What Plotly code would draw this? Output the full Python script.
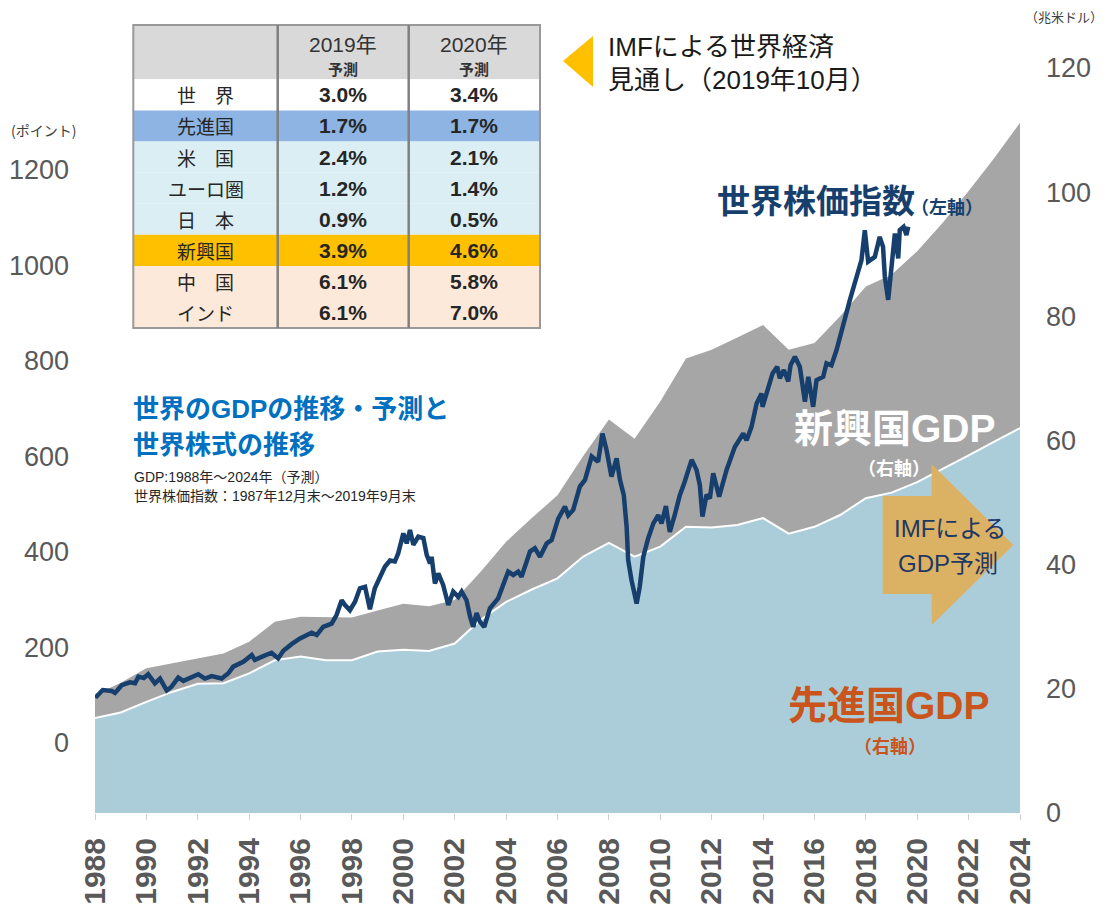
import plotly.graph_objects as go

# ---------------- data ----------------
years = list(range(1988, 2025))
adv_gdp = [15.3, 16.2, 17.9, 19.5, 20.8, 20.9, 22.5, 24.6, 25.2, 24.6, 24.6, 26.0, 26.3, 26.1, 27.3,
           31.1, 34.0, 36.0, 37.8, 41.3, 43.5, 41.3, 42.9, 46.1, 46.0, 46.4, 47.5, 45.0, 46.1, 48.0,
           50.7, 51.6, 53.3, 55.4, 57.6, 59.8, 62.0]
world_gdp = [19.0, 21.0, 23.3, 24.1, 24.9, 25.7, 27.6, 30.8, 31.6, 31.6, 31.5, 32.6, 33.7, 33.3, 34.3,
             38.8, 43.7, 47.5, 51.2, 57.5, 63.4, 60.3, 66.3, 73.2, 74.6, 76.6, 78.6, 74.6, 75.7, 80.0,
             84.8, 86.7, 90.5, 95.1, 100.2, 105.5, 111.2]

stock_t = [1988.00, 1988.07, 1988.30, 1988.65, 1988.78, 1989.04, 1989.36, 1989.56, 1989.69, 1989.90,
           1990.07, 1990.33, 1990.53, 1990.79, 1990.98, 1991.24, 1991.44, 1991.70, 1992.02, 1992.28,
           1992.54, 1992.93, 1993.19, 1993.38, 1993.77, 1994.10, 1994.22, 1994.55, 1994.87, 1995.13,
           1995.33, 1995.65, 1995.98, 1996.43, 1996.63, 1996.88, 1997.21, 1997.40, 1997.60, 1997.73,
           1997.92, 1998.12, 1998.31, 1998.51, 1998.70, 1998.89, 1999.09, 1999.28, 1999.48, 1999.67,
           1999.80, 2000.00, 2000.13, 2000.26, 2000.39, 2000.58, 2000.78, 2000.91, 2001.04, 2001.10,
           2001.23, 2001.36, 2001.55, 2001.75, 2001.94, 2002.14, 2002.27, 2002.46, 2002.60, 2002.72,
           2002.85, 2002.98, 2003.15, 2003.37, 2003.69, 2003.89, 2004.08, 2004.28, 2004.47, 2004.60,
           2004.93, 2005.12, 2005.32, 2005.58, 2005.77, 2006.03, 2006.29, 2006.42, 2006.61, 2006.87,
           2007.07, 2007.33, 2007.58, 2007.75, 2007.91, 2008.10, 2008.30, 2008.43, 2008.58, 2008.69,
           2008.75, 2008.88, 2009.08, 2009.20, 2009.34, 2009.53, 2009.73, 2009.92, 2010.05, 2010.22,
           2010.37, 2010.56, 2010.76, 2010.95, 2011.22, 2011.41, 2011.54, 2011.64, 2011.80, 2011.93,
           2012.06, 2012.29, 2012.58, 2012.90, 2013.23, 2013.36, 2013.55, 2013.75, 2013.94, 2013.98,
           2014.16, 2014.37, 2014.55, 2014.65, 2014.81, 2014.98, 2015.07, 2015.24, 2015.43, 2015.63,
           2015.76, 2015.95, 2016.08, 2016.34, 2016.47, 2016.66, 2016.86, 2017.12, 2017.38, 2017.64,
           2017.83, 2017.96, 2018.09, 2018.35, 2018.54, 2018.67, 2018.74, 2018.87, 2019.00, 2019.13,
           2019.26, 2019.32, 2019.47, 2019.58, 2019.65]
stock_v = [100, 98, 111, 109, 105, 121, 127, 125, 139, 136,
           144, 125, 135, 110, 118, 137, 130, 137, 144, 135,
           140, 135, 146, 160, 170, 184, 174, 182, 189, 177,
           193, 207, 219, 231, 226, 243, 250, 268, 299, 289,
           278, 296, 324, 327, 280, 324, 348, 369, 382, 380,
           397, 439, 418, 446, 415, 432, 429, 394, 376, 390,
           334, 355, 331, 289, 317, 306, 317, 299, 264, 243,
           272, 254, 243, 282, 303, 334, 359, 352, 359, 348,
           401, 408, 390, 418, 425, 470, 495, 477, 488, 537,
           551, 600, 589, 648, 613, 558, 596, 551, 519, 453,
           383, 341, 292, 327, 390, 429, 460, 477, 460, 496,
           442, 477, 519, 547, 593, 572, 540, 474, 520, 512,
           565, 516, 572, 620, 648, 634, 662, 711, 732, 704,
           739, 774, 788, 764, 781, 757, 791, 809, 788, 715,
           767, 704, 760, 767, 795, 791, 823, 879, 928, 976,
           1011, 1074, 1008, 1018, 1060, 1039, 976, 928, 1011, 1067,
           1015, 1074, 1081, 1064, 1081]

x_ticks = list(range(1988, 2025, 2))
left_ticks = [0, 200, 400, 600, 800, 1000, 1200]
right_ticks = [0, 20, 40, 60, 80, 100, 120]

tbl_regions = ["世　界", "先進国", "米　国", "ユーロ圏", "日　本", "新興国", "中　国", "インド"]
tbl_2019 = ["3.0%", "1.7%", "2.4%", "1.2%", "0.9%", "3.9%", "6.1%", "6.1%"]
tbl_2020 = ["3.4%", "1.7%", "2.1%", "1.4%", "0.5%", "4.6%", "5.8%", "7.0%"]
tbl_colors = ["#ffffff", "#8db4e2", "#daeef3", "#daeef3", "#daeef3", "#ffc000", "#fde9d9", "#fde9d9"]
tbl_headers = ["2019年", "2020年"]

# ---------------- geometry helpers (page pixel coords -> paper) ----------------
OFF = 8                      # page body margin around the figure
W, H = 1099, 905
L, R, T, B = 87, 87, 60, 100
PW, PH = W - L - R, H - T - B


def fx(px):
    return (px - OFF - L) / PW


def fy(py):
    return (H - B - (py - OFF)) / PH


FONT = "Liberation Sans, Arial, Noto Sans CJK JP"
JFONT = "Noto Sans CJK JP, Liberation Sans"

fig = go.Figure()

fig.add_trace(go.Scatter(x=years, y=adv_gdp, mode="lines", fill="tozeroy", fillcolor="#abcdd9",
                         line=dict(color="#abcdd9", width=0), hoverinfo="skip", yaxis="y"))
fig.add_trace(go.Scatter(x=years, y=world_gdp, mode="lines", fill="tonexty", fillcolor="#a6a6a6",
                         line=dict(color="#a6a6a6", width=0), hoverinfo="skip", yaxis="y"))
fig.add_trace(go.Scatter(x=years, y=adv_gdp, mode="lines",
                         line=dict(color="#ffffff", width=2), hoverinfo="skip", yaxis="y"))
fig.add_trace(go.Scatter(x=stock_t, y=stock_v, mode="lines",
                         line=dict(color="#173f6e", width=4.5), hoverinfo="skip", yaxis="y2"))

shapes = []
# table
tx = [133.3, 277.7, 408.7, 540.0]
t_top, h_bot, row_h = 25.0, 79.3, 31.1
shapes.append(dict(type="rect", xref="paper", yref="paper", x0=fx(tx[0]), x1=fx(tx[3]),
                   y0=fy(h_bot), y1=fy(t_top), fillcolor="#d9d9d9", line=dict(width=0), layer="above"))
for i, c in enumerate(tbl_colors):
    shapes.append(dict(type="rect", xref="paper", yref="paper", x0=fx(tx[0]), x1=fx(tx[3]),
                       y0=fy(h_bot + (i + 1) * row_h), y1=fy(h_bot + i * row_h),
                       fillcolor=c, line=dict(width=0), layer="above"))
t_bot = h_bot + len(tbl_colors) * row_h
shapes.append(dict(type="rect", xref="paper", yref="paper", x0=fx(tx[0]), x1=fx(tx[3]),
                   y0=fy(t_bot), y1=fy(t_top), line=dict(color="#999999", width=2), layer="above"))
for xx in tx[1:3]:
    shapes.append(dict(type="line", xref="paper", yref="paper", x0=fx(xx), x1=fx(xx),
                       y0=fy(t_bot), y1=fy(t_top), line=dict(color="#808080", width=2.5), layer="above"))

# yellow triangle
shapes.append(dict(type="path", xref="paper", yref="paper",
                   path=f"M {fx(563)},{fy(61)} L {fx(593)},{fy(36)} L {fx(593)},{fy(87)} Z",
                   fillcolor="#ffc000", line=dict(width=0), layer="above"))

# forecast arrow
ax0, axh, axt = 882.7, 931.7, 1013.3
ys_t, ys_b, yh_t, yh_b, y_tip = 496, 594, 464, 625, 545
arrow_path = (f"M {fx(ax0)},{fy(ys_t)} L {fx(axh)},{fy(ys_t)} L {fx(axh)},{fy(yh_t)} "
              f"L {fx(axt)},{fy(y_tip)} L {fx(axh)},{fy(yh_b)} L {fx(axh)},{fy(ys_b)} "
              f"L {fx(ax0)},{fy(ys_b)} Z")
shapes.append(dict(type="path", xref="paper", yref="paper", path=arrow_path,
                   fillcolor="#dbb264", line=dict(width=0), layer="above"))

annotations = []


def ann(text, x, y, size, color, xanchor="center", yanchor="middle", family=FONT, align="center"):
    annotations.append(dict(text=text, xref="paper", yref="paper", x=fx(x), y=fy(y),
                            xanchor=xanchor, yanchor=yanchor, showarrow=False, align=align,
                            font=dict(size=size, color=color, family=family)))


# table text
col_c = [(tx[0] + tx[1]) / 2, (tx[1] + tx[2]) / 2, (tx[2] + tx[3]) / 2]
for j, h in enumerate(tbl_headers):
    ann(h, col_c[j + 1], 45, 21, "#333333")
    ann("<b>予測</b>", col_c[j + 1], 68, 15, "#333333", family=JFONT)
for i in range(len(tbl_regions)):
    yc = h_bot + (i + 0.5) * row_h
    ann(tbl_regions[i], col_c[0], yc, 19, "#262626", family=JFONT)
    ann(f"<b>{tbl_2019[i]}</b>", col_c[1], yc, 21, "#262626")
    ann(f"<b>{tbl_2020[i]}</b>", col_c[2], yc, 21, "#262626")

# IMF note
ann("IMFによる世界経済", 606, 47, 26, "#1a1a1a", xanchor="left")
ann("見通し（2019年10月）", 606, 80, 26, "#1a1a1a", xanchor="left")

# axis titles
ann("(ポイント)", 9, 130, 14, "#404040", xanchor="left", family=JFONT)
ann("（兆米ドル）", 1064, 17, 13, "#404040", family=JFONT)

# chart title texts
ann("<b>世界のGDPの推移・予測と</b>", 131, 409, 26, "#0070c0", xanchor="left")
ann("<b>世界株式の推移</b>", 131, 445, 26, "#0070c0", xanchor="left")
ann("GDP:1988年～2024年（予測）", 132, 477, 14, "#262626", xanchor="left")
ann("世界株価指数：1987年12月末～2019年9月末", 132, 496, 14, "#262626", xanchor="left")

# series labels
ann("<b>世界株価指数</b>", 917, 201, 33, "#173f6e", xanchor="right")
ann("<b>（左軸）</b>", 909, 206, 18, "#173f6e", xanchor="left", family=JFONT)
ann("<b>新興国GDP</b>", 895, 429, 39, "#ffffff")
ann("<b>（右軸）</b>", 894, 467, 18, "#ffffff", family=JFONT)
ann("<b>先進国GDP</b>", 889, 705, 39, "#c9541c")
ann("<b>（右軸）</b>", 890, 745, 18, "#c9541c", family=JFONT)
ann("IMFによる", 950, 528, 24, "#1f3864")
ann("GDP予測", 948, 563, 24, "#1f3864")

tick_font = dict(family="Liberation Sans, Arial", size=27, color="#595959")

fig.update_layout(
    width=W, height=H,
    margin=dict(l=L, r=R, t=T, b=B, autoexpand=False),
    paper_bgcolor="white", plot_bgcolor="white",
    showlegend=False,
    xaxis=dict(range=[1988, 2024], tickmode="array", tickvals=x_ticks,
               ticktext=[f"<b>{v}</b>" for v in x_ticks], tickangle=-90,
               tickfont=dict(family="Liberation Sans, Arial", size=30, color="#595959"),
               ticks="outside", ticklen=6, tickcolor="#d0d0d0", showgrid=False, zeroline=False,
               showline=False, automargin=False, ticklabelstandoff=6),
    yaxis=dict(range=[0, 120], side="right", tickmode="array", tickvals=right_ticks,
               tickfont=tick_font, showgrid=False, zeroline=False, showline=False,
               ticklabelstandoff=25, automargin=False),
    yaxis2=dict(range=[-146.6, 1413.6], side="left", overlaying="y", tickmode="array",
                tickvals=left_ticks, tickfont=tick_font, showgrid=False, zeroline=False,
                showline=False, ticklabelstandoff=25, automargin=False),
    shapes=shapes,
    annotations=annotations,
)

fig.write_html("out.html")
